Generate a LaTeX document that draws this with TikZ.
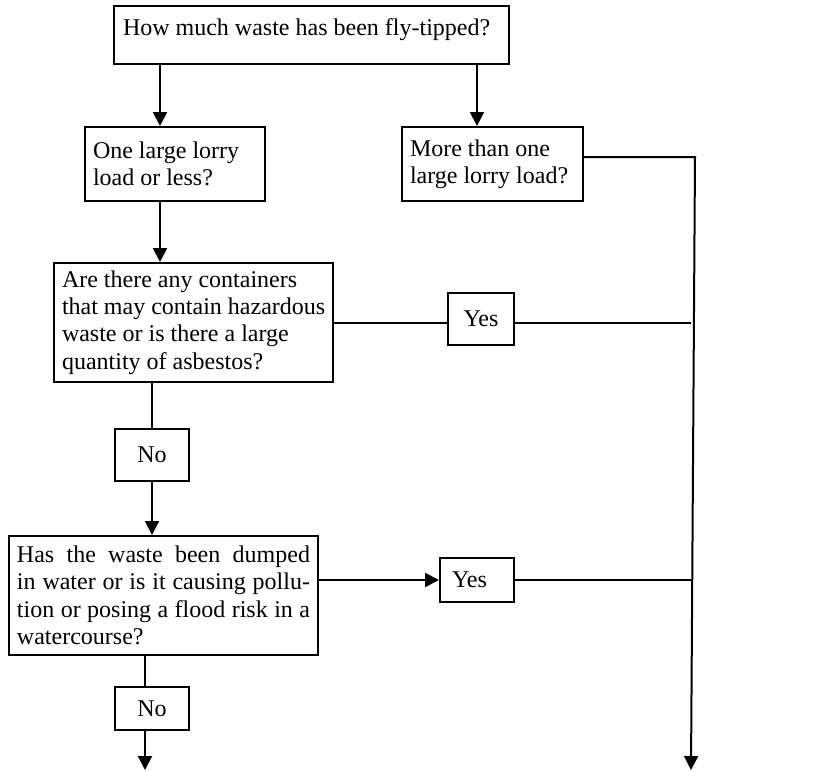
\documentclass[tikz,border=0pt]{standalone}
\usepackage{fontspec}
\setmainfont{Liberation Serif}
\usepackage{tikz}
\usetikzlibrary{arrows.meta}

\begin{document}
\begin{tikzpicture}[x=0.5pt,y=-0.5pt,line width=1pt,
    >={Triangle[length=7pt,width=7pt]},
    every node/.style={font=\fontsize{12}{13.7}\selectfont},
    qbox/.style={draw,inner xsep=4pt,inner ysep=0pt,align=flush left},
    ansbox/.style={draw,inner sep=0pt,minimum width=37pt,align=center}]
\useasboundingbox (0,0) rectangle (819,771);
\node[qbox,inner xsep=4.5pt,text width=188.5pt,text height=14.5pt,text depth=14.5pt] (q0) at (311.5,35) {How much waste has been fly-tipped?};
\node[qbox,text width=82pt,minimum height=37pt] (q1) at (175,164) {One large lorry\\load or less?};
\node[qbox,text width=82.5pt,minimum height=37pt] (q2) at (492.5,164) {More than one\\large lorry load?};
\node[qbox,inner xsep=2pt,text width=135.5pt,minimum height=59.5pt] (q3) at (193.5,322.5) {\hspace{2pt}Are there any containers\\\hspace{2pt}that may contain hazardous\\\hspace{2pt}waste or is there a large\\\hspace{2pt}quantity of asbestos?};
\node[ansbox,minimum height=26pt] (n1) at (152,455) {No};
\node[qbox,text width=146.5pt,minimum height=59.5pt,align=justify] (q4) at (163.5,595.5) {Has the waste been dumped\linebreak in water or is it causing pollu-\linebreak tion or posing a flood risk in a\linebreak watercourse?};
\node[ansbox,minimum height=21.5pt] (n2) at (152,708.5) {No};
\node[ansbox,minimum width=33pt,minimum height=26pt] (y1) at (481,319) {Yes};
\node[ansbox,inner xsep=6pt,text width=25pt,align=flush left,minimum height=22pt] (y2) at (477,580) {Yes};
\coordinate (c1) at (160,0);
\coordinate (c2) at (477,0);
\coordinate (c4) at (145,0);
\coordinate (r1) at (695,157);
\coordinate (r2) at (691,770);
\draw[->] (q0.south -| c1) -- (q1.north -| c1);
\draw[->] (q0.south -| c2) -- (q2.north -| c2);
\draw[->] (q1.south -| c1) -- (q3.north -| c1);
\draw[->] (q2.east |- r1) -- (r1) -- (r2);
\draw (q3.east) -- (q3.east -| y1.west);
\draw (q3.east -| y1.east) -- (q3.east -| r2);
\draw (n1.north |- q3.south) -- (n1.north);
\draw[->] (n1.south) -- (n1.south |- q4.north);
\draw[->] (q4.east |- y2.west) -- (y2.west);
\draw (y2.east) -- (y2.east -| r2);
\draw (q4.south -| c4) -- (n2.north -| c4);
\draw[->] (n2.south -| c4) -- (c4 |- r2);
\end{tikzpicture}
\end{document}
